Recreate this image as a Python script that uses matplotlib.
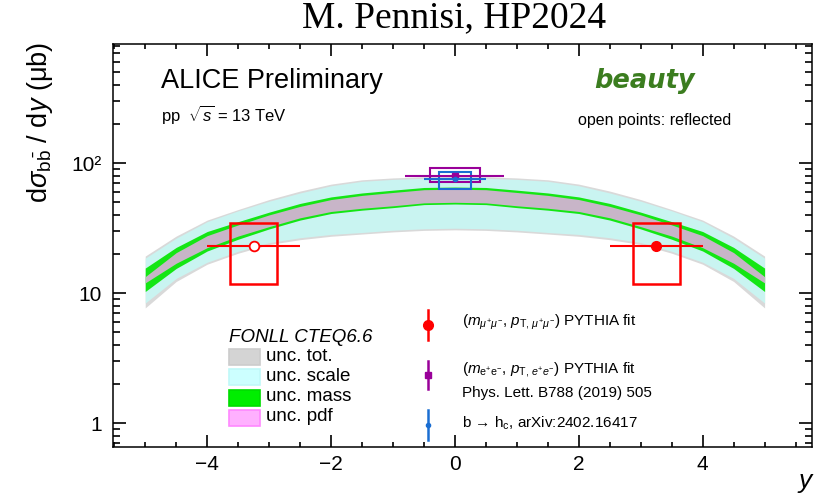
import numpy as np
import matplotlib.pyplot as plt
from matplotlib.patches import Rectangle
from matplotlib.ticker import MultipleLocator, LogLocator, NullFormatter

plt.rcParams['font.family'] = ['Liberation Sans', 'DejaVu Sans']
plt.rcParams['mathtext.fontset'] = 'custom'
plt.rcParams['mathtext.rm'] = 'Liberation Sans'
plt.rcParams['mathtext.it'] = 'Liberation Sans:italic'
plt.rcParams['mathtext.bf'] = 'Liberation Sans:bold'
plt.rcParams['axes.unicode_minus'] = True

# FONLL CTEQ6.6 band, read for y >= 0 (symmetric in y)
y_half = np.array([0, 0.5, 1, 1.5, 2, 2.5, 3, 3.5, 4, 4.5, 5])
tot_hi = np.array([79, 78.5, 77, 74.5, 69, 61, 52.5, 44, 36.5, 27.5, 19.3])
scale_hi = np.array([77, 76.5, 75, 72.5, 67, 59, 51, 43, 35.5, 26.5, 18.6])
mass_hi = np.array([65.5, 65, 62, 59, 55, 49, 42, 35.5, 29.8, 22.5, 15.6])
pdf_hi = np.array([63, 62.5, 59.5, 56.5, 52.5, 46.5, 40, 33.5, 27.7, 20.5, 13.4])
pdf_lo = np.array([50, 49.5, 47, 45, 42.5, 38, 32.5, 27.5, 22.4, 17, 12.0])
mass_lo = np.array([48.5, 48, 45.5, 43.5, 41, 36.5, 31.2, 26, 21.1, 15.5, 10.3])
scale_lo = np.array([31.6, 31.3, 30.5, 29.3, 28.3, 26.7, 24.5, 21, 17.3, 13, 8.4])
tot_lo = np.array([30.7, 30.4, 29.6, 28.5, 27.4, 25.8, 23.7, 20.3, 16.7, 12.3, 7.7])

# measurements
mm_y, mm_val, mm_yw, mm_stat, mm_sys_lo, mm_sys_hi = 3.25, 23.1, 0.75, 0.8, 11.8, 34.5
ee_y, ee_val, ee_yw, ee_stat, ee_sys_lo, ee_sys_hi = 0.0, 80.0, 0.8, 2.0, 71.0, 92.5
hc_y, hc_val, hc_yw, hc_stat, hc_sys_lo, hc_sys_hi = 0.0, 75.7, 0.5, 1.5, 63.4, 86.0


def mirror(v):
    return np.concatenate([v[::-1], v[1:]])


y_full = np.concatenate([-y_half[::-1], y_half[1:]])

fig = plt.figure(figsize=(8.16, 4.93), dpi=100)
ax = fig.add_axes([0.1385, 0.0939, 0.8562, 0.8162])

ax.fill_between(y_full, mirror(tot_lo), mirror(tot_hi), color='#d9d9d9', lw=0, zorder=1)
ax.fill_between(y_full, mirror(scale_lo), mirror(scale_hi), color='#c9f4f1', lw=0, zorder=2)
ax.fill_between(y_full, mirror(mass_lo), mirror(mass_hi), color='#14e614', lw=0, zorder=3)
ax.fill_between(y_full, mirror(pdf_lo), mirror(pdf_hi), color='#c8b5c8', lw=0, zorder=4)

red = '#ff0000'
purple = '#990099'
blue = '#1a6ed2'


def sys_box(x, half, lo, hi, color, lw):
    ax.add_patch(Rectangle((x - half, lo), 2 * half, hi - lo, fill=False,
                           edgecolor=color, lw=lw, zorder=6))


# dimuon (filled) and reflected (open)
sys_box(mm_y, 0.38, mm_sys_lo, mm_sys_hi, red, 1.8)
sys_box(-mm_y, 0.38, mm_sys_lo, mm_sys_hi, red, 1.8)
ax.errorbar([mm_y], [mm_val], xerr=mm_yw, yerr=mm_stat, fmt='o', color=red,
            ms=7, lw=1.5, capsize=0, zorder=7)
ax.errorbar([-mm_y], [mm_val], xerr=mm_yw, yerr=mm_stat, fmt='o', color=red,
            mfc='white', mec=red, mew=1.3, ms=7, lw=1.5, capsize=0, zorder=7)

# dielectron
sys_box(ee_y, 0.41, ee_sys_lo, ee_sys_hi, purple, 1.5)
ax.errorbar([ee_y], [ee_val], xerr=ee_yw, yerr=ee_stat, fmt='s', color=purple,
            ms=4, lw=1.5, capsize=0, zorder=7)

# b -> hc
sys_box(hc_y, 0.26, hc_sys_lo, hc_sys_hi, blue, 1.5)
ax.errorbar([hc_y], [hc_val], xerr=hc_yw, yerr=hc_stat, fmt='o', color=blue,
            ms=3, lw=1.5, capsize=0, zorder=8)

ax.set_yscale('log')
ax.set_xlim(-5.52, 5.76)
ax.set_ylim(0.66, 820)

ax.xaxis.set_major_locator(MultipleLocator(2))
ax.xaxis.set_minor_locator(MultipleLocator(0.5))
ax.set_yticks([1, 10, 100])
ax.set_yticklabels(['1', '10', '10²'])
ax.yaxis.set_minor_locator(LogLocator(base=10, subs=np.arange(2, 10)))
ax.yaxis.set_minor_formatter(NullFormatter())

ax.tick_params(which='both', direction='in', top=True, right=True, width=1.2,
               labelsize=15)
ax.tick_params(axis='x', which='major', length=8.5, pad=6)
ax.tick_params(axis='x', which='minor', length=3.8)
ax.tick_params(axis='y', which='major', length=9.5, pad=8)
ax.tick_params(axis='y', which='minor', length=5)
for s in ax.spines.values():
    s.set_linewidth(1.1)

# texts
fig.text(454 / 816, 1 - 18 / 493, 'M. Pennisi, HP2024', family='Liberation Serif',
         fontsize=27, ha='center', va='center')
ax.text(0.068, 0.91, 'ALICE Preliminary', transform=ax.transAxes, fontsize=19.5,
        va='center', ha='left')
ax.text(0.068, 0.825, r'pp  $\sqrt{s}$ = 13 TeV', transform=ax.transAxes,
        fontsize=12, va='center', ha='left')
ax.text(0.761, 0.91, 'beauty', transform=ax.transAxes, family='DejaVu Sans',
        fontsize=18.5, fontweight='bold', style='italic', color='#3b7d1f',
        va='center', ha='center')
ax.text(0.775, 0.811, 'open points: reflected', transform=ax.transAxes,
        fontsize=11.5, va='center', ha='center')

fig.text(40 / 816, 1 - 42 / 493, r'd$\sigma_{\mathrm{b\bar{b}}}$ / d$y$ ($\mathrm{\mu}$b)',
         rotation=90, fontsize=19.5, ha='center', va='top')
fig.text(805 / 816, 1 - 481 / 493, 'y', style='italic', fontsize=19,
         ha='center', va='center')


# FONLL legend
def ax_xy(px, py):
    return (px - 113) / 698.7, (446.7 - py) / 402.4


tx, ty = ax_xy(229, 337)
ax.text(tx, ty, 'FONLL CTEQ6.6', style='italic', fontsize=13.5,
        transform=ax.transAxes, va='center', ha='left', zorder=10)
fonll_labels = ['unc. tot.', 'unc. scale', 'unc. mass', 'unc. pdf']
fonll_face = ['#d4d4d4', '#ccffff', '#00ee00', '#ffb0ff']
fonll_edge = ['#cccccc', '#c0f8f8', '#00dd00', '#ff88ff']
for i, (lab, fc, ec) in enumerate(zip(fonll_labels, fonll_face, fonll_edge)):
    py = 357 + 20.3 * i
    x0, y0 = ax_xy(229, py + 8)
    x1, y1 = ax_xy(260, py - 8)
    ax.add_patch(Rectangle((x0, y0), x1 - x0, y1 - y0, transform=ax.transAxes,
                           facecolor=fc, edgecolor=ec, lw=1.2, zorder=10))
    lx, ly = ax_xy(266, py - 1)
    ax.text(lx, ly, lab, fontsize=13.5, transform=ax.transAxes, va='center',
            ha='left', zorder=10)

# data legend
data_rows = [
    (red, 'o', 7, 325, 15, [(r'($m_{\mu^{+}\mu^{-}}$, $p_{\mathrm{T},\,\mu^{+}\mu^{-}}$) PYTHIA fit', 322)]),
    (purple, 's', 5, 375, 14, [(r'($m_{\mathrm{e^{+}e^{-}}}$, $p_{\mathrm{T},\,e^{+}e^{-}}$) PYTHIA fit', 369),
                               ('Phys. Lett. B788 (2019) 505', 393)]),
    (blue, 'o', 3, 425, 15, [(r'b → h$_{\mathrm{c}}$, arXiv:2402.16417', 423)]),
]
for col, mk, ms, py, half, lines in data_rows:
    mx, my = ax_xy(428, py)
    _, ytop = ax_xy(428, py - half)
    _, ybot = ax_xy(428, py + half)
    ax.plot([mx, mx], [ybot, ytop], color=col, lw=1.8, transform=ax.transAxes,
            zorder=10, clip_on=False)
    ax.plot([mx], [my], marker=mk, color=col, ms=ms, transform=ax.transAxes,
            zorder=11, clip_on=False)
    for txt, ly in lines:
        lx, lyy = ax_xy(462, ly)
        ax.text(lx, lyy, txt, fontsize=11, transform=ax.transAxes, va='center',
                ha='left', zorder=10)

fig.savefig('out.png', dpi=100)
